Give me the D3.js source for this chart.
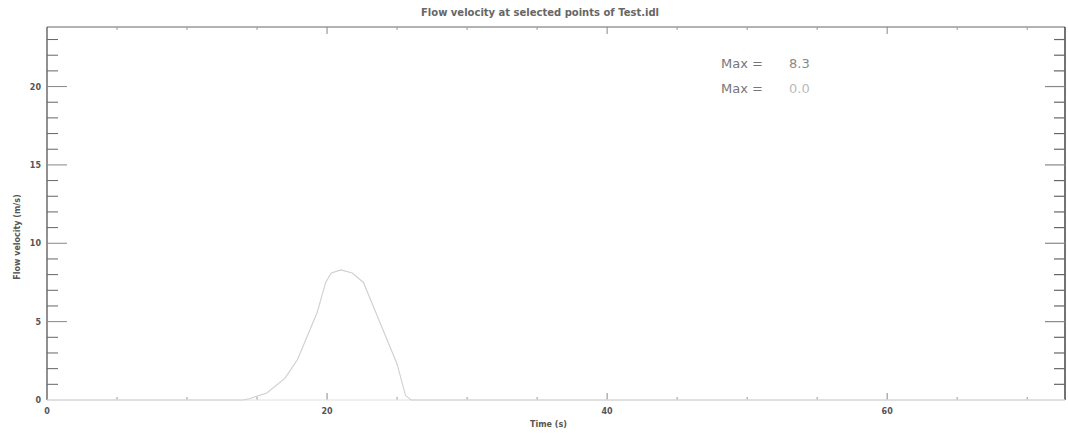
<!DOCTYPE html>
<html>
<head>
<meta charset="utf-8">
<script src="https://cdn.jsdelivr.net/npm/d3@7"></script>
<style>
  body { margin: 0; background: #fff; }
  svg { display: block; }
  .labelText { font-family: "DejaVu Sans", sans-serif; fill: #555; }
</style>
</head>
<body>
<svg id="chart" width="1068" height="433"></svg>
<script>
// values
var times     = [0, 14.0, 14.5, 15.7, 17.0, 17.9, 19.3, 19.9, 20.3, 21.0, 21.8, 22.6, 23.8, 25.0, 25.6, 26.0, 72.7];
var velocity1 = [0, 0,    0.1,  0.45, 1.4,  2.6,  5.6,  7.5,  8.1,  8.3,  8.1,  7.5,  4.9,  2.3,  0.3,  0,    0];
var velocity2 = [0, 0,    0,    0,    0,    0,    0,    0,    0,    0,    0,    0,    0,    0,    0,    0,    0];
var xMajor = [0, 20, 40, 60];
var xMinor = [5, 10, 15, 25, 30, 35, 45, 50, 55, 65, 70];
var yMajor = [0, 5, 10, 15, 20];
var yMinor = [1, 2, 3, 4, 6, 7, 8, 9, 11, 12, 13, 14, 16, 17, 18, 19, 21, 22, 23];
var legendLabels = ["Max =", "Max ="];
var legendValues = ["8.3", "0.0"];

var svg = d3.select("#chart");
var border_left = 47, border_right = 1065, border_top = 27, border_bottom = 400;

var x = d3.scaleLinear().domain([0, 72.7]).range([border_left, border_right]);
var y = d3.scaleLinear().domain([0, 23.8]).range([border_bottom, border_top]);

// title
svg.append("text")
    .attr("class", "labelText")
    .attr("x", 540).attr("y", 16)
    .attr("text-anchor", "middle")
    .style("font-size", "10px").style("font-weight", "bold").style("fill", "#666")
    .text("Flow velocity at selected points of Test.idl");

// frame: bottom axis is faint in the scan
svg.append("line").attr("x1", border_left).attr("x2", border_right)
    .attr("y1", border_bottom).attr("y2", border_bottom)
    .attr("stroke", "#e2e2e2").attr("stroke-width", 1);
svg.append("line").attr("x1", border_left).attr("x2", border_right)
    .attr("y1", border_top).attr("y2", border_top)
    .attr("stroke", "#666").attr("stroke-width", 1.2);
svg.append("line").attr("x1", border_left).attr("x2", border_left)
    .attr("y1", border_top).attr("y2", border_bottom)
    .attr("stroke", "#555").attr("stroke-width", 1.3);
svg.append("line").attr("x1", border_right).attr("x2", border_right)
    .attr("y1", border_top).attr("y2", border_bottom)
    .attr("stroke", "#444").attr("stroke-width", 1.5);

// left & right ticks
function yTicks(vals, len, col) {
    svg.selectAll(null).data(vals).enter().append("line")
        .attr("x1", border_left).attr("x2", border_left + len)
        .attr("y1", function(d) { return y(d); }).attr("y2", function(d) { return y(d); })
        .attr("stroke", col).attr("stroke-width", 1);
    svg.selectAll(null).data(vals).enter().append("line")
        .attr("x1", border_right).attr("x2", border_right - len)
        .attr("y1", function(d) { return y(d); }).attr("y2", function(d) { return y(d); })
        .attr("stroke", col).attr("stroke-width", 1.2);
}
yTicks(yMajor.filter(function(d) { return d > 0; }), 20, "#888");
yTicks(yMinor, 11, "#666");

// top & bottom ticks
function xTicks(vals, len, col) {
    svg.selectAll(null).data(vals).enter().append("line")
        .attr("x1", function(d) { return x(d); }).attr("x2", function(d) { return x(d); })
        .attr("y1", border_top).attr("y2", border_top + len)
        .attr("stroke", col).attr("stroke-width", 1);
    svg.selectAll(null).data(vals).enter().append("line")
        .attr("x1", function(d) { return x(d); }).attr("x2", function(d) { return x(d); })
        .attr("y1", border_bottom).attr("y2", border_bottom - len)
        .attr("stroke", col).attr("stroke-width", 1);
}
xTicks(xMajor.filter(function(d) { return d > 0; }), 7, "#888");
xTicks(xMinor, 3, "#999");

// tick labels
svg.selectAll(".ylab").data(yMajor).enter().append("text")
    .attr("class", "labelText")
    .attr("x", border_left - 6)
    .attr("y", function(d) { return y(d) + 3; })
    .attr("text-anchor", "end")
    .style("font-size", "8px").style("font-weight", "bold")
    .text(function(d) { return d; });

svg.selectAll(".xlab").data(xMajor).enter().append("text")
    .attr("class", "labelText")
    .attr("x", function(d) { return x(d); })
    .attr("y", 414)
    .attr("text-anchor", "middle")
    .style("font-size", "8px").style("font-weight", "bold")
    .text(function(d) { return d; });

// axis titles
svg.append("text")
    .attr("class", "labelText")
    .attr("transform", "translate(20,237) rotate(-90)")
    .attr("text-anchor", "middle")
    .style("font-size", "8px").style("font-weight", "bold")
    .text("Flow velocity (m/s)");

svg.append("text")
    .attr("class", "labelText")
    .attr("x", 530).attr("y", 427)
    .style("font-size", "8px").style("font-weight", "bold")
    .text("Time (s)");

// series
var line = d3.line()
    .x(function(d) { return x(d[0]); })
    .y(function(d) { return y(d[1]); });

svg.append("path")
    .datum(d3.zip(times, velocity2))
    .attr("d", line)
    .attr("fill", "none").attr("stroke", "#eee").attr("stroke-width", 1);

svg.append("path")
    .datum(d3.zip(times, velocity1))
    .attr("d", line)
    .attr("fill", "none").attr("stroke", "#cfcfcf").attr("stroke-width", 1.1);

// legend
svg.selectAll(".legLab").data(legendLabels).enter().append("text")
    .attr("class", "labelText")
    .attr("x", 721)
    .attr("y", function(d, i) { return 68 + i * 25; })
    .style("font-size", "13px").style("fill", "#777")
    .text(function(d) { return d; });

svg.selectAll(".legVal").data(legendValues).enter().append("text")
    .attr("class", "labelText")
    .attr("x", 789)
    .attr("y", function(d, i) { return 68 + i * 25; })
    .style("font-size", "13px")
    .style("fill", function(d, i) { return i == 0 ? "#888" : "#bbb"; })
    .text(function(d) { return d; });
</script>
</body>
</html>
